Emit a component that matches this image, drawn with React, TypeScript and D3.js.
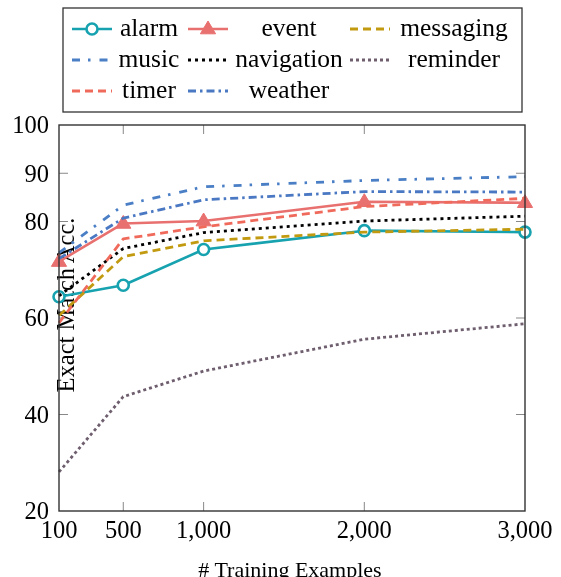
import React from "react";
import * as d3 from "d3";

const xValues = [100, 500, 1000, 2000, 3000];
const xTicks = [100, 500, 1000, 2000, 3000];
const yTicks = [20, 40, 60, 80, 90, 100];

const alarm = [64.4, 66.8, 74.2, 78.1, 77.8];
const event = [71.7, 79.6, 80.1, 84.1, 83.9];
const messaging = [60.5, 72.7, 76.0, 77.8, 78.4];
const music = [73.5, 83.4, 87.2, 88.5, 89.3];
const navigation = [64.6, 74.4, 77.7, 80.1, 81.1];
const reminder = [28.1, 43.7, 49.0, 55.6, 58.8];
const timer = [59.0, 76.4, 78.9, 83.1, 84.8];
const weather = [72.3, 80.7, 84.5, 86.2, 86.1];

const seriesNames = ["alarm", "event", "messaging", "music", "navigation", "reminder", "timer", "weather"];
const seriesValues = [alarm, event, messaging, music, navigation, reminder, timer, weather];

type Style = { color: string; dash: string; marker: "circle" | "triangle" | null; width: number };
const styles: Style[] = [
  { color: "#17a2b0", dash: "", marker: "circle", width: 2.6 },
  { color: "#e8706f", dash: "", marker: "triangle", width: 2.6 },
  { color: "#c29a10", dash: "8,5", marker: null, width: 2.8 },
  { color: "#4a7fc6", dash: "8,8,2.5,9", marker: null, width: 2.8 },
  { color: "#000000", dash: "3,4", marker: null, width: 2.8 },
  { color: "#6e5e6e", dash: "3,3", marker: null, width: 2.8 },
  { color: "#f06a5c", dash: "8,5", marker: null, width: 2.8 },
  { color: "#4a78c2", dash: "8,4,2.5,4", marker: null, width: 2.8 },
];

const W = 561;
const H = 577;
const left = 59, right = 525, top = 125, bottom = 511;
const fs = (size: number) => ({ fontFamily: "Liberation Serif", fontSize: size + "px" });

function Marker({ kind, x, y, color }: { kind: string | null; x: number; y: number; color: string }) {
  if (kind === "circle") {
    return <circle cx={x} cy={y} r={5.5} fill="white" stroke={color} strokeWidth={2.6} />;
  }
  if (kind === "triangle") {
    const s = 8;
    const p = `${x},${y - s} ${x + s * 0.95},${y + s * 0.6} ${x - s * 0.95},${y + s * 0.6}`;
    return <polygon points={p} fill={color} stroke={color} strokeWidth={1} />;
  }
  return null;
}

export default function App() {
  const x = d3.scaleLinear().domain([100, 3000]).range([left, right]);
  const y = d3.scaleLinear().domain([20, 100]).range([bottom, top]);
  const line = d3
    .line<number>()
    .x((_, i) => x(xValues[i]))
    .y((d) => y(d));

  const legendCols = [
    { lx: 72, tx: 149 },
    { lx: 188, tx: 289 },
    { lx: 350, tx: 454 },
  ];
  const legendRows = [
    { ly: 29, ty: 36 },
    { ly: 60, ty: 67 },
    { ly: 91, ty: 98 },
  ];

  return (
    <svg width={W} height={H} style={{ position: "fixed", left: 0, top: 0 }}>
      {/* ticks */}
      {xTicks.slice(1, -1).map((t) => (
        <g key={"xt" + t} stroke="#888" strokeWidth={1}>
          <line x1={x(t)} x2={x(t)} y1={bottom} y2={bottom - 9} />
          <line x1={x(t)} x2={x(t)} y1={top} y2={top + 9} />
        </g>
      ))}
      {yTicks.slice(1, -1).map((t) => (
        <g key={"yt" + t} stroke="#888" strokeWidth={1}>
          <line x1={left} x2={left + 9} y1={y(t)} y2={y(t)} />
          <line x1={right} x2={right - 9} y1={y(t)} y2={y(t)} />
        </g>
      ))}
      {/* y label */}
      <text transform={`translate(74, 305) rotate(-90)`} textAnchor="middle" style={fs(24.5)} fill="#000">
        Exact Match Acc.
      </text>
      {/* series */}
      {seriesValues.map((vals, i) => (
        <g key={seriesNames[i]}>
          <path
            d={line(vals) || ""}
            fill="none"
            stroke={styles[i].color}
            strokeWidth={styles[i].width}
            strokeDasharray={styles[i].dash}
            strokeLinejoin="round"
          />
          {vals.map((v, j) => (
            <Marker key={j} kind={styles[i].marker} x={x(xValues[j])} y={y(v)} color={styles[i].color} />
          ))}
        </g>
      ))}
      {/* axis box */}
      <rect x={left} y={top} width={right - left} height={bottom - top} fill="none" stroke="#333" strokeWidth={1.4} />
      {/* tick labels */}
      {xTicks.map((t) => (
        <text key={"xl" + t} x={x(t)} y={538} textAnchor="middle" style={fs(24.5)}>
          {d3.format(",")(t)}
        </text>
      ))}
      {yTicks.map((t) => (
        <text key={"yl" + t} x={49} y={y(t)} dy="0.34em" textAnchor="end" style={fs(24.5)}>
          {t}
        </text>
      ))}
      <text x={290} y={577} textAnchor="middle" style={fs(22)}>
        # Training Examples
      </text>
      {/* legend */}
      <rect x={63} y={8} width={459} height={104} fill="white" stroke="#333" strokeWidth={1.3} />
      {seriesNames.map((name, i) => {
        const c = legendCols[i % 3];
        const r = legendRows[Math.floor(i / 3)];
        const s = styles[i];
        return (
          <g key={"lg" + name}>
            <line
              x1={c.lx}
              x2={c.lx + 40}
              y1={r.ly}
              y2={r.ly}
              stroke={s.color}
              strokeWidth={s.width}
              strokeDasharray={s.dash}
            />
            <Marker kind={s.marker} x={c.lx + 20} y={r.ly} color={s.color} />
            <text
              x={c.tx}
              y={r.ty}
              textAnchor="middle"
              transform={`rotate(0.01, ${c.tx}, ${r.ty})`}
              style={fs(25.5)}
            >
              {name}
            </text>
          </g>
        );
      })}
    </svg>
  );
}
